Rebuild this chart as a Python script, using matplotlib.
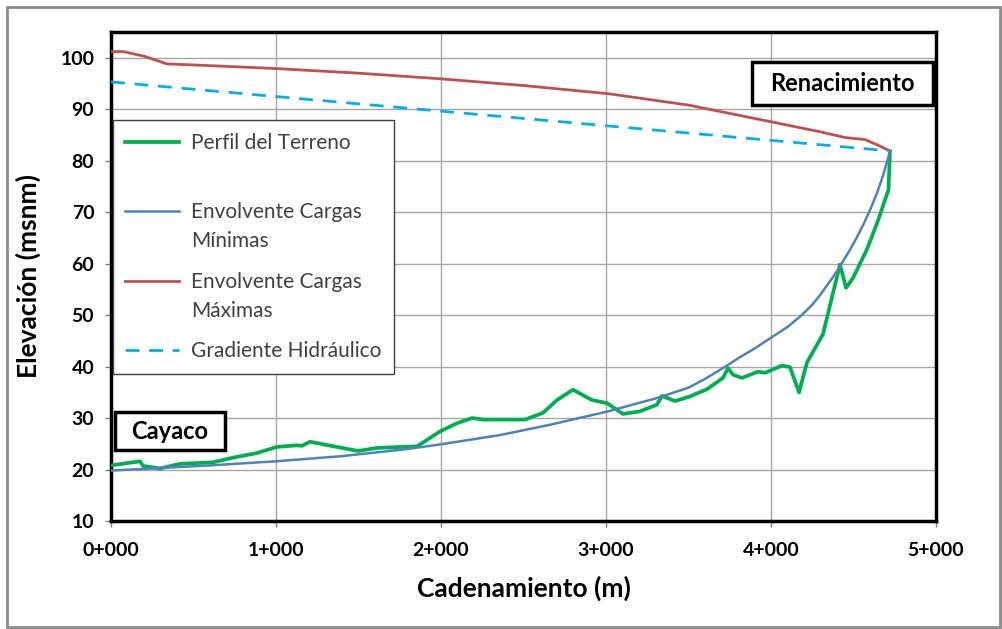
import matplotlib.pyplot as plt
from matplotlib.patches import Rectangle
from matplotlib.legend_handler import HandlerLine2D

# Perfil del terreno
perfil_x = [0, 176, 194, 297, 418, 618, 739, 885, 1006, 1127, 1157, 1206, 1497, 1612, 1855,
            1994, 2097, 2188, 2255, 2509, 2618, 2703, 2800, 2915, 3006, 3103, 3206, 3309,
            3339, 3418, 3509, 3612, 3709, 3739, 3770, 3824, 3921, 3964, 4067, 4115, 4170,
            4218, 4315, 4418, 4455, 4497, 4582, 4650, 4703, 4712, 4721]
perfil_y = [20.8, 21.6, 20.7, 20.2, 21.1, 21.4, 22.3, 23.2, 24.4, 24.7, 24.6, 25.4, 23.6, 24.2, 24.5,
            27.4, 29.0, 30.0, 29.7, 29.7, 31.0, 33.5, 35.5, 33.5, 32.9, 30.8, 31.3, 32.6,
            34.3, 33.3, 34.2, 35.6, 37.8, 39.7, 38.4, 37.8, 39.0, 38.8, 40.2, 39.9, 35.0,
            40.8, 46.3, 59.8, 55.3, 57.2, 62.8, 68.5, 73.5, 74.3, 81.8]

# Envolvente cargas minimas
min_x = [0, 300, 600, 1000, 1400, 1800, 2000, 2358, 2661, 3000, 3300, 3500, 3600, 3739, 3800,
         3900, 4000, 4100, 4176, 4250, 4300, 4376, 4420, 4479, 4520, 4560, 4600, 4640, 4680, 4721]
min_y = [19.8, 20.3, 20.8, 21.6, 22.6, 24.0, 24.9, 26.7, 28.7, 31.2, 33.8, 35.9, 37.6, 40.3, 41.6,
         43.5, 45.6, 47.7, 49.7, 52.0, 54.0, 57.4, 59.6, 62.7, 65.1, 67.6, 70.4, 73.5, 77.2, 81.8]

# Envolvente cargas maximas
max_x = [0, 73, 200, 339, 500, 1000, 1500, 2000, 2500, 3018, 3500, 3994, 4300, 4448, 4570, 4642, 4721]
max_y = [101.2, 101.2, 100.3, 98.8, 98.6, 97.9, 97.0, 95.9, 94.6, 93.0, 90.8, 87.6, 85.6, 84.5, 84.1, 83.1, 81.9]

# Gradiente hidraulico
grad_x = [0, 4721]
grad_y = [95.3, 81.9]

xticks = [0, 1000, 2000, 3000, 4000, 5000]
xticklabels = ['0+000', '1+000', '2+000', '3+000', '4+000', '5+000']
yticks = [10, 20, 30, 40, 50, 60, 70, 80, 90, 100]

LEG_FS = 15
LINESP = 1.55


# la linea de la leyenda va a la altura del primer renglon (como en Excel)
class FirstLineHandler(HandlerLine2D):
    def create_artists(self, legend, orig_handle, xdescent, ydescent, width, height, fontsize, trans):
        arts = super().create_artists(legend, orig_handle, xdescent, ydescent, width, height, fontsize, trans)
        dy = 0.5 * LINESP * fontsize * 0.98
        for a in arts:
            a.set_ydata([y + dy for y in a.get_ydata()])
        return arts


plt.rcParams['font.family'] = ['Lato', 'DejaVu Sans']

fig = plt.figure(figsize=(10.03, 6.29), dpi=100)
ax = fig.add_axes([111 / 1003, 1 - 521 / 629, 825 / 1003, 489 / 629])

# marco gris exterior
fig.patches.append(Rectangle((7 / 1003, 2 / 629), 993 / 1003, 620 / 629, transform=fig.transFigure,
                             fill=False, edgecolor='#8C8C8C', linewidth=2))

l1, = ax.plot(perfil_x, perfil_y, color='#00B050', linewidth=2.7, label='Perfil del Terreno\n', zorder=3)
l2, = ax.plot(min_x, min_y, color='#4F81BD', linewidth=1.8, label='Envolvente Cargas\nMínimas', zorder=4)
l3, = ax.plot(max_x, max_y, color='#C0504D', linewidth=2.0, label='Envolvente Cargas\nMáximas', zorder=4)
l4, = ax.plot(grad_x, grad_y, color='#00B0F0', linewidth=2.0, linestyle=(0, (5, 3.5)),
              label='Gradiente Hidráulico', zorder=4)

ax.set_xlim(0, 5000)
ax.set_ylim(10, 105)
ax.set_xticks(xticks)
ax.set_xticklabels(xticklabels)
ax.set_yticks(yticks)
ax.grid(True, color='#A6A6A6', linewidth=1)
ax.set_axisbelow(True)
for s in ax.spines.values():
    s.set_linewidth(2.5)
    s.set_color('black')
ax.tick_params(axis='both', labelsize=14, length=4, width=1, color='#808080')
ax.tick_params(axis='x', pad=11)
ax.tick_params(axis='y', pad=8)
for lab in ax.get_xticklabels() + ax.get_yticklabels():
    lab.set_fontweight('bold')

ax.set_xlabel('Cadenamiento (m)', fontsize=19, fontweight='bold', labelpad=12)
ax.set_ylabel('Elevación (msnm)', fontsize=19, fontweight='bold', labelpad=14)

h = FirstLineHandler()
leg = ax.legend(loc='upper left', bbox_to_anchor=(0.0024, 0.82), fontsize=LEG_FS, frameon=True,
                fancybox=False, edgecolor='#404040', framealpha=1, labelspacing=1.0,
                handlelength=2.55, handletextpad=0.6, borderpad=0.6, borderaxespad=0,
                handler_map={l1: h, l2: h, l3: h, l4: HandlerLine2D()})
leg.get_frame().set_linewidth(1)
for t in leg.get_texts():
    t.set_color('#404040')
    t.set_linespacing(LINESP)

# cuadros de texto
ax.add_patch(Rectangle((0.777, 0.8507), 0.2194, 0.088, transform=ax.transAxes, facecolor='white',
                       edgecolor='black', linewidth=2.5, zorder=6))
ax.text(0.8867, 0.8947, 'Renacimiento', transform=ax.transAxes, ha='center', va='center',
        fontsize=17, fontweight='bold', zorder=7)
ax.add_patch(Rectangle((0.00485, 0.1452), 0.1334, 0.0777, transform=ax.transAxes, facecolor='white',
                       edgecolor='black', linewidth=2.5, zorder=6))
ax.text(0.0715, 0.184, 'Cayaco', transform=ax.transAxes, ha='center', va='center',
        fontsize=17, fontweight='bold', zorder=7)

fig.savefig('out.png', dpi=100)
